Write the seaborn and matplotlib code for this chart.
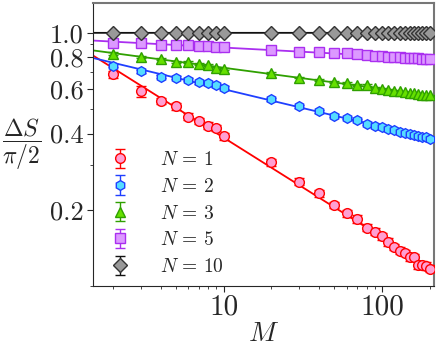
import numpy as np
import pandas as pd
import matplotlib
matplotlib.use("Agg")
import matplotlib.pyplot as plt
import seaborn as sns

sns.set_style("ticks")
plt.rcParams["font.family"] = "serif"
plt.rcParams["font.serif"] = ["cmr10", "DejaVu Serif"]
plt.rcParams["mathtext.fontset"] = "cm"
plt.rcParams["axes.formatter.use_mathtext"] = True

# values
M = [2, 3, 4, 5, 6, 7, 8, 9, 10,
     20, 30, 40, 50, 60, 70, 80, 90, 100,
     110, 120, 130, 140, 150, 160, 170, 180, 190, 200]

ds_n1 = [0.686, 0.589, 0.537, 0.512, 0.466, 0.449, 0.430, 0.422, 0.390,
         0.308, 0.258, 0.232, 0.209, 0.194, 0.184, 0.170, 0.164, 0.157,
         0.149, 0.143, 0.138, 0.135, 0.130, 0.130, 0.121, 0.121, 0.120, 0.117]
ds_n2 = [0.742, 0.706, 0.671, 0.665, 0.653, 0.637, 0.631, 0.620, 0.607,
         0.547, 0.512, 0.490, 0.470, 0.461, 0.452, 0.438, 0.428, 0.424,
         0.417, 0.412, 0.407, 0.402, 0.397, 0.394, 0.390, 0.388, 0.386, 0.381]
ds_n3 = [0.828, 0.800, 0.787, 0.769, 0.765, 0.751, 0.746, 0.728, 0.718,
         0.692, 0.665, 0.649, 0.641, 0.635, 0.620, 0.624, 0.607, 0.600,
         0.594, 0.590, 0.587, 0.581, 0.579, 0.576, 0.573, 0.569, 0.568, 0.566]
ds_n5 = [0.910, 0.915, 0.893, 0.899, 0.891, 0.886, 0.883, 0.881, 0.878,
         0.856, 0.843, 0.838, 0.830, 0.830, 0.823, 0.818, 0.813, 0.811,
         0.805, 0.803, 0.801, 0.798, 0.796, 0.796, 0.793, 0.791, 0.791, 0.789]
ds_n10 = [1.000, 1.000, 0.999, 1.000, 1.000, 0.999, 1.000, 1.000, 0.999,
          1.000, 0.999, 1.000, 1.000, 0.999, 1.000, 1.000, 0.999, 1.000,
          1.000, 1.000, 0.999, 1.000, 1.000, 1.000, 0.999, 1.000, 1.000, 1.000]

err_n1 = [0.022, 0.030, 0.016, 0.015, 0.014, 0.013, 0.013, 0.012, 0.012,
          0.009, 0.008, 0.007, 0.006, 0.006, 0.006, 0.005, 0.005, 0.005,
          0.005, 0.004, 0.004, 0.004, 0.004, 0.004, 0.004, 0.004, 0.004, 0.004]
err_n2 = [0.012, 0.010, 0.009, 0.009, 0.008, 0.008, 0.008, 0.008, 0.008,
          0.007, 0.006, 0.006, 0.006, 0.006, 0.005, 0.005, 0.005, 0.005,
          0.005, 0.005, 0.005, 0.005, 0.005, 0.005, 0.005, 0.005, 0.005, 0.005]
err_n3 = [0.008, 0.007, 0.007, 0.007, 0.006, 0.006, 0.006, 0.006, 0.006,
          0.006, 0.005, 0.005, 0.005, 0.005, 0.005, 0.005, 0.005, 0.005,
          0.004, 0.004, 0.004, 0.004, 0.004, 0.004, 0.004, 0.004, 0.004, 0.004]
err_n5 = [0.005] * 28
err_n10 = [0.002] * 28

labels = [r"$N\,=\,1$", r"$N\,=\,2$", r"$N\,=\,3$", r"$N\,=\,5$", r"$N\,=\,10$"]
series = [ds_n1, ds_n2, ds_n3, ds_n5, ds_n10]
errors = [err_n1, err_n2, err_n3, err_n5, err_n10]
markers = ["o", "h", "^", "s", "D"]
line_colors = ["#ff0000", "#1f3fff", "#2fa000", "#aa2ff0", "#111111"]
face_colors = ["#ff9fd2", "#55dcff", "#66e000", "#dc99ff", "#999999"]
edge_colors = ["#ff0000", "#1f3fff", "#2fa000", "#aa2ff0", "#333333"]
marker_sizes = [7, 7, 7.5, 7, 7]

xlim = (1.5, 213)

fig, ax = plt.subplots(figsize=(4.37, 3.47), dpi=100)
ax.set_xscale("log")
ax.set_yscale("log")

for lab, ys, es, mk, lc, fc, ec, ms in zip(labels, series, errors, markers,
                                           line_colors, face_colors, edge_colors, marker_sizes):
    # power-law fit drawn over the full x range
    slope, icpt = np.polyfit(np.log10(M), np.log10(ys), 1)
    xfit = np.array(xlim)
    fit = pd.DataFrame({"M": xfit, "y": 10 ** icpt * xfit ** slope})
    sns.lineplot(data=fit, x="M", y="y", color=lc, lw=1.3, ax=ax, zorder=2)
    ax.errorbar(M, ys, yerr=es, fmt=mk, ms=ms, mfc=fc, mec=ec, mew=1.0,
                ecolor=lc, elinewidth=1.0, capsize=3.5, capthick=1.0,
                label=lab, zorder=3)

ax.set_xlim(*xlim)
ax.set_ylim(0.1, 1.31)

ax.set_xticks([10, 100])
ax.set_xticklabels(["10", "100"])
ax.set_yticks([0.2, 0.4, 0.6, 0.8, 1.0])
ax.set_yticklabels(["0.2", "0.4", "0.6", "0.8", "1.0"])
ax.set_yticks([0.1, 0.3, 0.5, 0.7, 0.9], minor=True)
ax.yaxis.set_minor_formatter(matplotlib.ticker.NullFormatter())
ax.tick_params(axis="x", which="major", labelsize=21, length=4, width=0.8, pad=2)
ax.tick_params(axis="y", which="major", labelsize=19, length=4, width=0.8, pad=3)
ax.tick_params(which="minor", length=2.5, width=0.6)

ax.set_xlabel("$M$", fontsize=20, labelpad=0)
ax.set_ylabel(r"$\dfrac{\Delta S}{\pi/2}$", fontsize=17, rotation=0, labelpad=20, va="center")

for side in ["top", "right"]:
    ax.spines[side].set_color("#777777")
    ax.spines[side].set_linewidth(1.5)

ax.legend(loc="lower left", bbox_to_anchor=(-0.025, -0.02), frameon=False,
          fontsize=14, handletextpad=1.1, labelspacing=0.45, borderpad=0.3)

fig.subplots_adjust(left=0.213, right=0.993, bottom=0.176, top=0.991)
fig.savefig("out.png", dpi=100)
